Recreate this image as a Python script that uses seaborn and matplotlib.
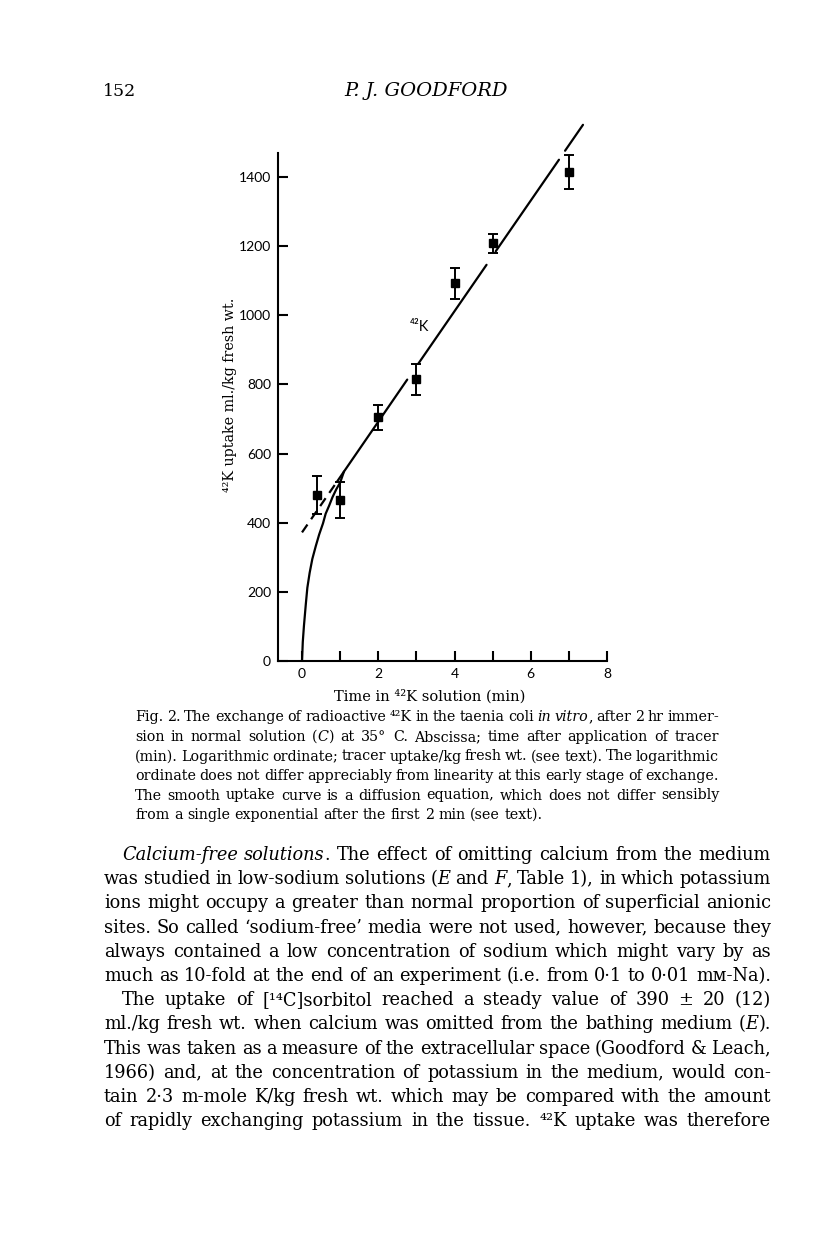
import matplotlib
matplotlib.use("Agg")
import matplotlib.pyplot as plt
import seaborn as sns
import pandas as pd
import numpy as np

# --- data ---
t_pts = [0.4, 1.0, 2.0, 3.0, 4.0, 5.0, 7.0]          # min
y_pts = [480, 465, 705, 815, 1092, 1208, 1415]       # ml./kg fresh wt.
y_err = [55, 52, 36, 45, 44, 28, 50]

# smooth diffusion curve
curve_t = [0.0, 0.02, 0.05, 0.1, 0.14, 0.2, 0.27, 0.36, 0.45, 0.55, 0.62, 0.71, 0.8, 0.9, 1.0, 1.1]
curve_y = [0, 55, 101, 165, 212, 255, 295, 332, 366, 398, 426, 449, 474, 497, 516, 548]

# straight exponential line: dashed part and solid pieces (broken at error bars)
dash_t = [0.0, 0.92]
dash_y = [372, 519]
seg_t0 = [0.92, 3.05, 5.08, 6.9]
seg_t1 = [2.76, 4.84, 6.74, 7.37]
seg_y0 = [519, 860, 1185, 1476]
seg_y1 = [814, 1146, 1450, 1551]

y_ticks = [0, 200, 400, 600, 800, 1000, 1200, 1400]
x_ticks = [0, 1, 2, 3, 4, 5, 6, 7, 8]
x_ticklabels = ['0', '', '2', '', '4', '', '6', '', '8']

# words between underscores are set in italic
caption = [
    "Fig. 2. The exchange of radioactive ⁴²K in the taenia coli _in_ _vitro_, after 2 hr immer-",
    "sion in normal solution (_C_) at 35° C. Abscissa; time after application of tracer",
    "(min). Logarithmic ordinate; tracer uptake/kg fresh wt. (see text). The logarithmic",
    "ordinate does not differ appreciably from linearity at this early stage of exchange.",
    "The smooth uptake curve is a diffusion equation, which does not differ sensibly",
    "from a single exponential after the first 2 min (see text).",
]

body = [
    "_Calcium-free_ _solutions_. The effect of omitting calcium from the medium",
    "was studied in low-sodium solutions (_E_ and _F_, Table 1), in which potassium",
    "ions might occupy a greater than normal proportion of superficial anionic",
    "sites. So called ‘sodium-free’ media were not used, however, because they",
    "always contained a low concentration of sodium which might vary by as",
    "much as 10-fold at the end of an experiment (i.e. from 0·1 to 0·01 mᴍ-Na).",
    "The uptake of [¹⁴C]sorbitol reached a steady value of 390 ± 20 (12)",
    "ml./kg fresh wt. when calcium was omitted from the bathing medium (_E_).",
    "This was taken as a measure of the extracellular space (Goodford & Leach,",
    "1966) and, at the concentration of potassium in the medium, would con-",
    "tain 2·3 m-mole K/kg fresh wt. which may be compared with the amount",
    "of rapidly exchanging potassium in the tissue. ⁴²K uptake was therefore",
]
body_indent = [0, 6]

sns.set_style("ticks")
SERIF = ['DejaVu Serif', 'DejaVu Sans']
SANS = ['Lato', 'DejaVu Sans']
plt.rcParams['font.family'] = SERIF
plt.rcParams['text.color'] = 'black'
plt.rcParams['axes.labelcolor'] = 'black'
plt.rcParams['xtick.color'] = 'black'
plt.rcParams['ytick.color'] = 'black'

W, H = 816, 1249
fig = plt.figure(figsize=(W / 100, H / 100), dpi=100)
fig.patch.set_facecolor('white')


def fx(px):
    return px / W


def fy(py):
    return 1 - py / H


# --- the chart ---
ax = fig.add_axes([fx(278), fy(661), 329 / W, 539.3 / H])
ax.set_facecolor('white')

sns.lineplot(x=curve_t, y=curve_y, ax=ax, color='black', lw=1.6, sort=False, estimator=None)
sns.lineplot(x=dash_t, y=dash_y, ax=ax, color='black', lw=1.6, sort=False,
             estimator=None, linestyle=(0, (4.3, 2.9)))
seg_df = pd.DataFrame({
    't': seg_t0 + seg_t1,
    'y': seg_y0 + seg_y1,
    'seg': list(range(len(seg_t0))) * 2,
})
sns.lineplot(data=seg_df, x='t', y='y', units='seg', estimator=None, ax=ax,
             color='black', lw=1.6, sort=False)
ax.errorbar(t_pts, y_pts, yerr=y_err, fmt='s', color='black', ms=5.5,
            capsize=3.3, elinewidth=1.4, capthick=1.4, zorder=5)

ax.text(2.82, 965, '⁴²K', family=SANS, fontsize=10.5, va='center', ha='left')

ax.set_xlim(-0.63, 8.0)
ax.set_ylim(0, 1560)
ax.set_xticks(x_ticks)
ax.set_xticklabels(x_ticklabels)
ax.set_yticks(y_ticks)
ax.set_yticklabels([str(v) for v in y_ticks])
for lab in ax.get_xticklabels() + ax.get_yticklabels():
    lab.set_family(SANS)
    lab.set_fontsize(10)
ax.tick_params(direction='in', length=7.5, width=1.5, colors='black')
ax.tick_params(axis='y', pad=5)
ax.tick_params(axis='x', pad=5)
sns.despine(ax=ax)
ax.spines['left'].set_bounds(0, 1470)
for s in ['left', 'bottom']:
    ax.spines[s].set_linewidth(1.5)
    ax.spines[s].set_color('black')

ax.set_xlabel('Time in ⁴²K solution (min)', fontsize=10.5, va='center')
ax.xaxis.set_label_coords((430 - 278) / 329, (661 - 696) / 539.3)
ax.set_ylabel('⁴²K uptake ml./kg fresh wt.', fontsize=10.3, va='center')
ax.yaxis.set_label_coords((230 - 278) / 329, (661 - 395) / 539.3)

# --- page text ---
renderer = fig.canvas.get_renderer()


def put_line(line, left, right, base, size, justify):
    items = []
    for w in line.split(' '):
        parts = []
        for i, seg in enumerate(w.split('_')):
            if seg:
                t = fig.text(0, fy(base), seg, fontsize=size, family=SERIF,
                             style='italic' if i % 2 else 'normal',
                             va='baseline', ha='left')
                parts.append((t, t.get_window_extent(renderer).width))
        items.append(parts)
    widths = [sum(p[1] for p in parts) for parts in items]
    if justify and len(items) > 1:
        gap = (right - left - sum(widths)) / (len(items) - 1)
    else:
        gap = size * 100 / 72 * 0.32
    x = left
    for parts, wd in zip(items, widths):
        for t, pw in parts:
            t.set_x(fx(x))
            x += pw
        x += gap


fig.text(fx(103), fy(96), '152', fontsize=12.5, family=SERIF, va='baseline', ha='left')
fig.text(fx(426), fy(96), 'P. J. GOODFORD', fontsize=14, family=SERIF, style='italic',
         va='baseline', ha='center')

for i, line in enumerate(caption):
    put_line(line, 135, 719, 721.5 + 19.5 * i, 10.3, i < len(caption) - 1)

for i, line in enumerate(body):
    left = 122 if i in body_indent else 104
    put_line(line, left, 771, 860 + 24.2 * i, 12.8, True)

fig.savefig('out.png', dpi=100, facecolor='white')
